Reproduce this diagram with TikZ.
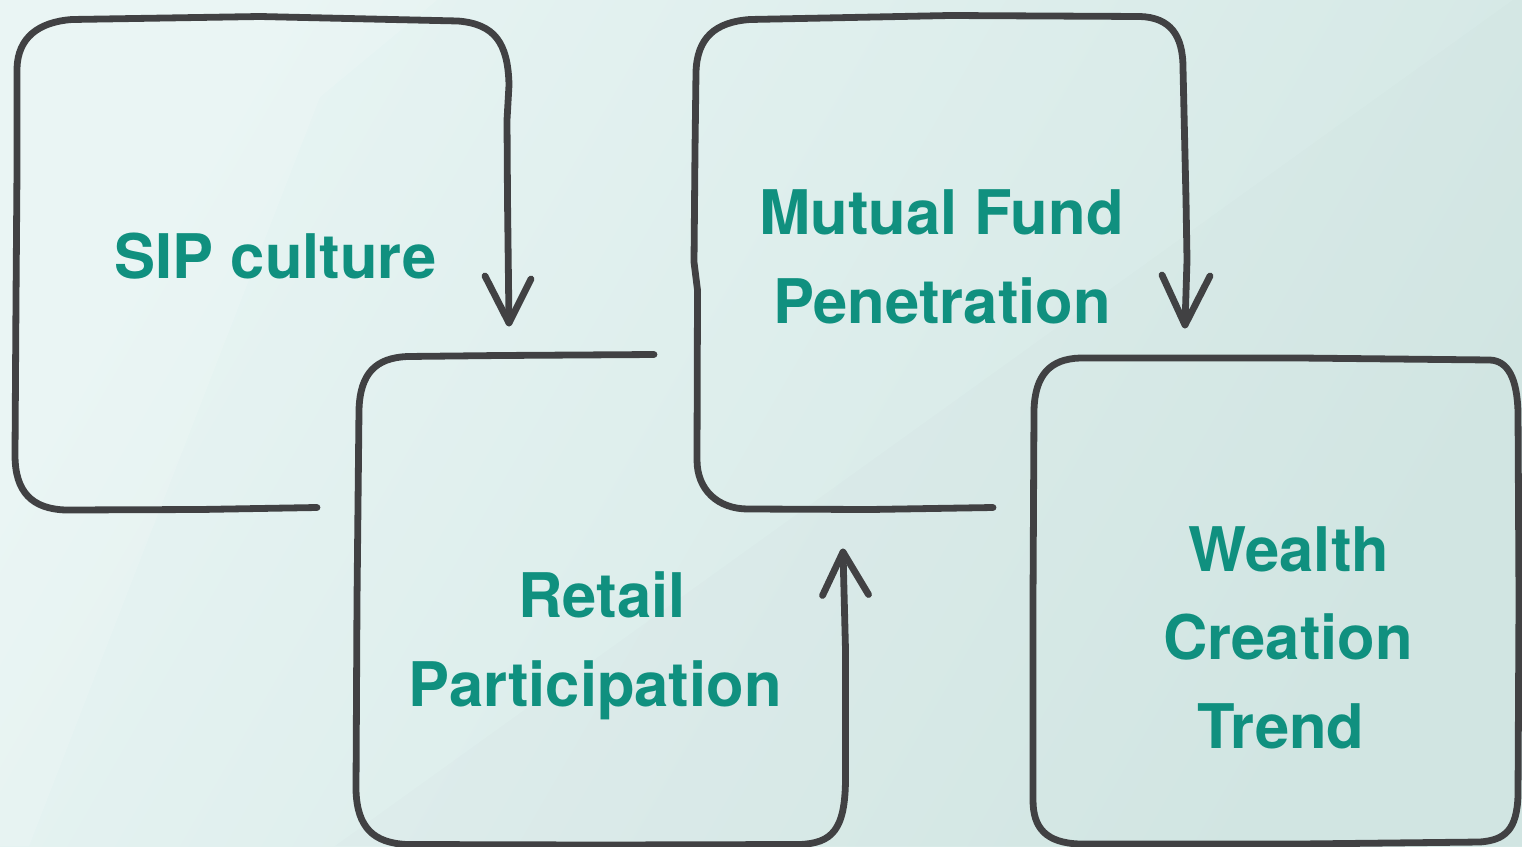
\documentclass[tikz,border=0pt]{standalone}
\usepackage{fontspec}
\setmainfont{TeX Gyre Heros}
\definecolor{ink}{HTML}{414143}
\definecolor{txtc}{HTML}{10907F}
\definecolor{bgA}{HTML}{E7F4F3}
\definecolor{bgB}{HTML}{D3E7E4}
\tikzset{
  sketch/.style={draw=ink, line width=6.8pt, line cap=round, line join=round},
  lbl/.style={text=txtc, font=\fontsize{61.5}{70}\selectfont\bfseries, inner sep=0pt, anchor=base}
}
\begin{document}
\begin{tikzpicture}[x=1pt,y=-1pt]
\useasboundingbox (0,0) rectangle (1522,846);
\clip (0,0) rectangle (1522,846);
% background
\shade[top color=bgA, bottom color=bgB, shading angle=60] (0,0) rectangle (1522,846);
\fill[white, opacity=0.14] (0,0) -- (437,0) -- (320,97) -- (29,846) -- (0,846) -- cycle;
\fill[ink, opacity=0.012] (1513,0) -- (1522,0) -- (1522,846) -- (335,846) -- cycle;

% labels
\node[lbl] (sip) at (275.5,278.5) {SIP culture};
\node[lbl] (mf1) at (941.5,234.5) {Mutual Fund};
\node[lbl] (mf2) at (942,323) {Penetration};
\node[lbl] (rp1) at (602,617) {Retail};
\node[lbl] (rp2) at (595,706) {Participation};
\node[lbl] (wc1) at (1289,571) {Wealth};
\node[lbl] (wc2) at (1288,659.5) {Creation};
\node[lbl] (wc3) at (1281,748.5) {Trend};

% box 1: SIP culture
\coordinate (b1s) at (317,507.5);
\coordinate (b1t) at (509,323);
\draw[sketch] (b1s) -- (200,509.5) -- (66,510)
  .. controls (32,509) and (15,492) .. (15,455)
  -- (16,300) -- (17,170) -- (17,68)
  .. controls (18,38) and (38,22) .. (72,19.5)
  -- (260,16.5) -- (458,21)
  .. controls (494,24) and (508,42) .. (509,85)
  -- (507,120) -- (507.5,200) -- (b1t);
\draw[sketch] (485,276) -- (b1t) -- (531,279);

% box 2: Retail Participation
\coordinate (b2s) at (654,354.5);
\coordinate (b2t) at (843,552);
\draw[sketch] (b2s) -- (500,355.5) -- (407,356.5)
  .. controls (376,358) and (360,373) .. (359,410)
  -- (357,600) -- (356,790)
  .. controls (357,828) and (374,843) .. (407,844.5)
  -- (600,845) -- (800,844.5)
  .. controls (832,843) and (845,830) .. (845.5,780)
  -- (845.5,650) -- (b2t);
\draw[sketch] (822.5,595.5) -- (b2t) -- (868.5,594.5);

% box 3: Mutual Fund Penetration
\coordinate (b3s) at (993,507.5);
\coordinate (b3t) at (1185,325);
\draw[sketch] (b3s) -- (870,509.5) -- (748,509)
  .. controls (718,509) and (697,490) .. (697,460)
  -- (697.5,290) -- (694,262) -- (695,150) -- (696,72)
  .. controls (697,38) and (715,22) .. (750,19.5)
  -- (950,15.5) -- (1140,16.5)
  .. controls (1170,17.5) and (1183,35) .. (1183,68)
  -- (1186,200) -- (1187,260) -- (b3t);
\draw[sketch] (1162,275) -- (b3t) -- (1210,276);

% box 4: Wealth Creation Trend
\draw[sketch] (1080,358) -- (1300,358) -- (1490,360)
  .. controls (1508,361) and (1517,378) .. (1518,412)
  -- (1519,600) -- (1518,795)
  .. controls (1517,830) and (1505,840) .. (1480,842)
  -- (1300,844) -- (1080,844)
  .. controls (1046,843) and (1033,828) .. (1033,800)
  -- (1033,600) -- (1034,410)
  .. controls (1035,375) and (1050,359) .. (1080,358) -- cycle;
\end{tikzpicture}
\end{document}
